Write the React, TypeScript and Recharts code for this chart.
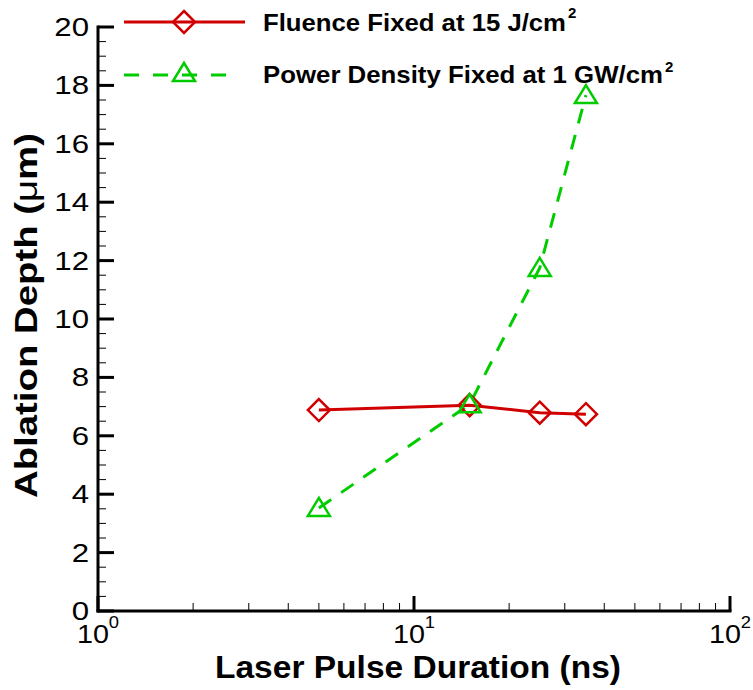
import { LineChart, Line, XAxis, YAxis, Legend, Label } from 'recharts';

// pulse duration in ns
const durations = [5, 15, 25, 35];
// ablation depth in um
const fluenceDepth = [6.88, 7.05, 6.79, 6.74];
const powerDepth = [3.53, 7.08, 11.75, 17.67];

const xMajorTicks = [1, 10, 100];
const xTicks = [1, 2, 3, 4, 5, 6, 7, 8, 9, 10, 20, 30, 40, 50, 60, 70, 80, 90, 100];
const yMajorTicks = [0, 2, 4, 6, 8, 10, 12, 14, 16, 18, 20];
const yTicks = yMajorTicks.flatMap((t) => (t < 20 ? [t, t + 0.5, t + 1, t + 1.5] : [t]));

const seriesNames = ['Fluence Fixed at 15 J/cm', 'Power Density Fixed at 1 GW/cm'];

const data = durations.map((d, i) => ({ duration: d, fluence: fluenceDepth[i], power: powerDepth[i] }));

const RED = '#d00000';
const GREEN = '#00cc00';
const FONT = '"Liberation Sans", Arial, Helvetica, sans-serif';

const diamond = (cx: number, cy: number, color: string, key?: any) => (
  <path
    key={key}
    d={`M${cx},${cy - 11} L${cx + 11},${cy} L${cx},${cy + 11} L${cx - 11},${cy} Z`}
    fill="none"
    stroke={color}
    strokeWidth={2.5}
  />
);

const triangle = (cx: number, cy: number, color: string, key?: any) => (
  <path
    key={key}
    d={`M${cx},${cy - 10} L${cx + 11},${cy + 8} L${cx - 11},${cy + 8} Z`}
    fill="none"
    stroke={color}
    strokeWidth={2.5}
  />
);

const XTick = (props: any) => {
  const { x, y, payload } = props;
  const major = xMajorTicks.includes(payload.value);
  return (
    <g>
      <line x1={x} x2={x} y1={y} y2={y - (major ? 15 : 8)} stroke="#000" strokeWidth={major ? 3 : 1} />
      {major && (
        <text
          transform={`translate(${x},${y + 32}) scale(1.15,1)`}
          textAnchor="middle"
          fontSize={25}
          fontFamily={FONT}
          fill="#000"
        >
          10
          <tspan dy={-15} fontSize={16}>
            {Math.round(Math.log10(payload.value))}
          </tspan>
        </text>
      )}
    </g>
  );
};

const YTick = (props: any) => {
  const { x, y, payload } = props;
  const major = yMajorTicks.includes(payload.value);
  return (
    <g>
      <line x1={x} x2={x + (major ? 16 : 8)} y1={y} y2={y} stroke="#000" strokeWidth={major ? 3 : 1} />
      {major && (
        <text
          transform={`translate(${x - 9},${y + 9}) scale(1.2,1)`}
          textAnchor="end"
          fontSize={26}
          fontFamily={FONT}
          fill="#000"
        >
          {payload.value}
        </text>
      )}
    </g>
  );
};

const LegendBox = () => (
  <svg width={753} height={100} style={{ display: 'block' }}>
    <line x1={124} x2={245} y1={22} y2={22} stroke={RED} strokeWidth={3} />
    {diamond(184, 22, RED)}
    <text x={263} y={31} fontSize={24} fontWeight="bold" fontFamily={FONT} textLength={303} lengthAdjust="spacingAndGlyphs">
      {seriesNames[0]}
    </text>
    <text x={568} y={18} fontSize={15} fontWeight="bold" fontFamily={FONT}>2</text>
    <line x1={124} x2={229} y1={75} y2={75} stroke={GREEN} strokeWidth={3} strokeDasharray="15 14" />
    {triangle(184, 73, GREEN)}
    <text x={263} y={83} fontSize={24} fontWeight="bold" fontFamily={FONT} textLength={400} lengthAdjust="spacingAndGlyphs">
      {seriesNames[1]}
    </text>
    <text x={665} y={72} fontSize={15} fontWeight="bold" fontFamily={FONT}>2</text>
  </svg>
);

export default function App() {
  return (
    <div style={{ position: 'absolute', left: 0, top: 0, background: '#fff' }}>
      <LineChart width={753} height={690} data={data} margin={{ top: 27, right: 23, left: 0, bottom: 0 }}>
        <XAxis
          dataKey="duration"
          type="number"
          scale="log"
          domain={[1, 100]}
          ticks={xTicks}
          interval={0}
          allowDataOverflow
          height={79}
          tickSize={0}
          tickMargin={0}
          tickLine={false}
          axisLine={{ stroke: '#000', strokeWidth: 3, strokeLinecap: 'square' }}
          tick={<XTick />}
        >
          <Label
            content={() => (
              <text
                x={215}
                y={678}
                fontSize={32}
                fontWeight="bold"
                fontFamily={FONT}
                fill="#000"
                textLength={406}
                lengthAdjust="spacingAndGlyphs"
              >
                Laser Pulse Duration (ns)
              </text>
            )}
          />
        </XAxis>
        <YAxis
          type="number"
          domain={[0, 20]}
          ticks={yTicks}
          interval={0}
          width={98}
          tickSize={0}
          tickMargin={0}
          tickLine={false}
          axisLine={{ stroke: '#000', strokeWidth: 3, strokeLinecap: 'square' }}
          tick={<YTick />}
        >
          <Label
            content={() => (
              <text
                transform="translate(37,498) rotate(-90)"
                fontSize={31}
                fontWeight="bold"
                fontFamily={FONT}
                fill="#000"
                textLength={365}
                lengthAdjust="spacingAndGlyphs"
              >
                Ablation Depth (<tspan fontWeight="normal">μ</tspan>m)
              </text>
            )}
          />
        </YAxis>
        <Legend
          layout="vertical"
          align="center"
          verticalAlign="middle"
          wrapperStyle={{ left: 0, top: 0, width: 753, height: 100 }}
          content={() => <LegendBox />}
        />
        <Line
          name={seriesNames[0]}
          dataKey="fluence"
          type="linear"
          stroke={RED}
          strokeWidth={3}
          isAnimationActive={false}
          dot={(p: any) => diamond(p.cx, p.cy, RED, p.key ?? `f${p.index}`)}
          activeDot={false}
        />
        <Line
          name={seriesNames[1]}
          dataKey="power"
          type="linear"
          stroke={GREEN}
          strokeWidth={3}
          strokeDasharray="15 12"
          isAnimationActive={false}
          dot={(p: any) => triangle(p.cx, p.cy, GREEN, p.key ?? `p${p.index}`)}
          activeDot={false}
        />
      </LineChart>
    </div>
  );
}
